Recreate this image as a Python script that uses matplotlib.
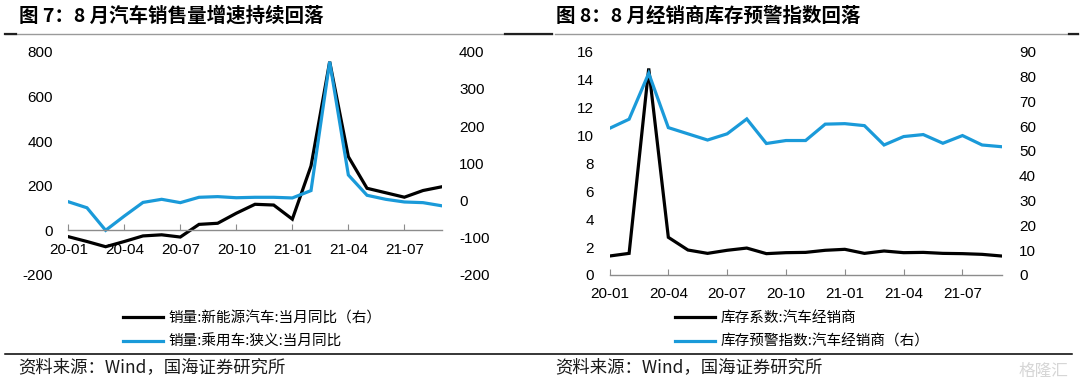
import numpy as np
import pandas as pd
import matplotlib
matplotlib.use("Agg")
import matplotlib.pyplot as plt
from matplotlib.lines import Line2D

# ============================================================
# Data
# ============================================================
months = pd.date_range("2020-01", periods=21, freq="MS").strftime("%y-%m").tolist()

# Fig 7: sales growth
nev_yoy = [-97, -110, -124, -110, -95, -92, -98, -64, -61, -34, -10,
           -12, -50, 93, 373, 118, 33, 21, 9, 27, 37]          # right axis
pv_yoy = [128, 101, 0, 64, 125, 139, 124, 148, 151, 146, 148,
          148, 145, 178, 755, 248, 157, 139, 127, 124, 110]     # left axis

# Fig 8: dealer inventory
inv_coef = [1.36, 1.55, 14.8, 2.7, 1.79, 1.55, 1.77, 1.93, 1.53, 1.6, 1.62,
            1.77, 1.84, 1.55, 1.72, 1.6, 1.62, 1.55, 1.53, 1.48, 1.36]   # left axis
inv_alert = [59.1, 62.8, 81.3, 59.4, 56.9, 54.4, 56.9, 62.9, 53.0, 54.2, 54.2,
             60.8, 61.0, 60.2, 52.4, 55.8, 56.6, 53.1, 56.2, 52.4, 51.7]  # right axis

titles = ["图 7：8 月汽车销售量增速持续回落", "图 8：8 月经销商库存预警指数回落"]
legend7 = ["销量:新能源汽车:当月同比（右）", "销量:乘用车:狭义:当月同比"]
legend8 = ["库存系数:汽车经销商", "库存预警指数:汽车经销商（右）"]
source = "资料来源：Wind，国海证券研究所"

# ============================================================
# Style
# ============================================================
BLUE = "#1a9ad9"
BLACK = "#000000"
GRAY = "#8c8c8c"
LW = 2.3
CJK = ["Noto Sans CJK SC", "DejaVu Sans"]
NUM = ["Liberation Sans", "DejaVu Sans"]
TICK_FS = 11

plt.rcParams["font.family"] = NUM
plt.rcParams["axes.unicode_minus"] = False

W, H = 1080, 380
fig = plt.figure(figsize=(W / 100, H / 100), dpi=100)

x = np.arange(len(months))
tick_pos = [i for i, m in enumerate(months) if m[-2:] in ("01", "04", "07", "10")]
tick_lab = [months[i] for i in tick_pos]


def fx(px):
    return px / W


def fy(py):
    return 1 - py / H


def style_axes(host, twin):
    for a in (host, twin):
        for s in a.spines.values():
            s.set_visible(False)
    host.spines["bottom"].set_visible(True)
    host.spines["bottom"].set_color(GRAY)
    host.spines["bottom"].set_linewidth(1.0)
    host.set_xlim(0, len(months) - 1)
    host.set_xticks(tick_pos)
    host.set_xticklabels(tick_lab)
    host.tick_params(axis="x", direction="in", length=4, color=GRAY,
                     labelsize=TICK_FS, pad=9)
    host.tick_params(axis="y", length=0, labelsize=TICK_FS, pad=11)
    twin.tick_params(axis="y", length=0, labelsize=TICK_FS, pad=12.5)


def add_legend(handles, labels, x0):
    fig.legend(handles, labels, loc="center left",
               bbox_to_anchor=(fx(x0), fy(330)), frameon=False,
               prop={"family": CJK, "size": 10.5}, handlelength=2.75,
               handletextpad=0.35, labelspacing=0.65, borderpad=0,
               borderaxespad=0)


# ============================================================
# Fig 7
# ============================================================
ax1 = fig.add_axes([fx(68.3), fy(275), fx(441.7 - 68.3), (275 - 51.7) / H])
ax1b = ax1.twinx()
l_nev, = ax1b.plot(x, nev_yoy, color=BLACK, lw=LW, solid_joinstyle="miter")
l_pv, = ax1.plot(x, pv_yoy, color=BLUE, lw=LW, solid_joinstyle="miter")
ax1.set_zorder(ax1b.get_zorder() + 1)
ax1.patch.set_visible(False)
ax1.set_ylim(-200, 800)
ax1.set_yticks(range(-200, 801, 200))
ax1b.set_ylim(-200, 400)
ax1b.set_yticks(range(-200, 401, 100))
style_axes(ax1, ax1b)
ax1.spines["bottom"].set_position(("data", 0))
add_legend([l_nev, l_pv], legend7, 123)

# ============================================================
# Fig 8
# ============================================================
ax2 = fig.add_axes([fx(609.5), fy(275), fx(1001.7 - 609.5), (275 - 51.7) / H])
ax2b = ax2.twinx()
l_coef, = ax2.plot(x, inv_coef, color=BLACK, lw=LW, solid_joinstyle="miter")
l_alert, = ax2b.plot(x, inv_alert, color=BLUE, lw=LW, solid_joinstyle="miter")
ax2.set_ylim(0, 16)
ax2.set_yticks(range(0, 17, 2))
ax2b.set_ylim(0, 90)
ax2b.set_yticks(range(0, 91, 10))
style_axes(ax2, ax2b)
add_legend([l_coef, l_alert], legend8, 675)

# ============================================================
# Titles, rules, source
# ============================================================
for x0, t in zip((19, 556), titles):
    fig.text(fx(x0), fy(16), t, family=CJK, fontsize=14, fontweight="bold",
             ha="left", va="center")
    fig.text(fx(x0 - 1), fy(367), source, family=CJK, fontsize=12.5,
             ha="left", va="center", color="#1a1a1a")

# title underlines: grey with darker ends
for a, b in ((5, 552), (555, 1078)):
    fig.add_artist(Line2D([fx(a), fx(b)], [fy(34), fy(34)], color="#9a9a9a",
                          lw=1.0, transform=fig.transFigure))
for a, b in ((5, 16), (505, 552), (1069, 1078)):
    fig.add_artist(Line2D([fx(a), fx(b)], [fy(34), fy(34)], color="#202020",
                          lw=1.6, transform=fig.transFigure))

fig.add_artist(Line2D([fx(5), fx(1072)], [fy(354), fy(354)], color=BLACK,
                      lw=1.1, transform=fig.transFigure))

fig.text(fx(1068), fy(371), "格隆汇", family=CJK, fontsize=12,
         ha="right", va="center", color="#d6d6d6")

fig.savefig("out.png", dpi=100)
